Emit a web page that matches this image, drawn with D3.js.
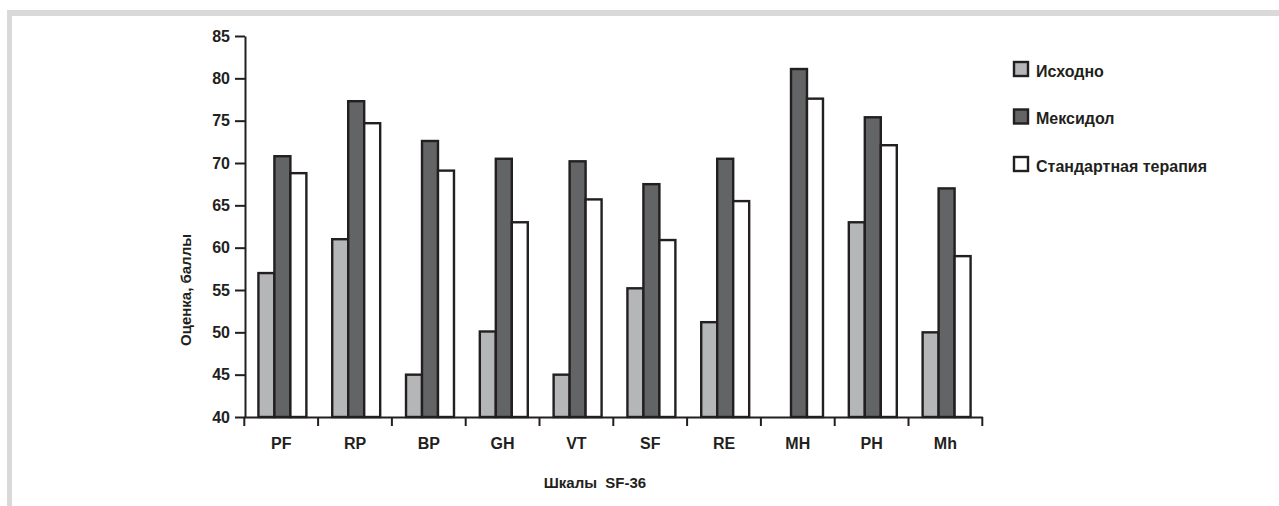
<!DOCTYPE html>
<html><head><meta charset="utf-8">
<script src="https://cdn.jsdelivr.net/npm/d3@7/dist/d3.min.js"></script>
<style>
html,body{margin:0;padding:0;background:#fff;}
svg{display:block;}
text{font-family:"Liberation Sans",Arial,Helvetica,sans-serif;font-weight:bold;fill:#231f20;}
</style></head>
<body>
<svg id="c" width="1279" height="506"></svg>
<script>
const categories = ["PF","RP","BP","GH","VT","SF","RE","MH","PH","Mh"];
const seriesNames = ["Исходно","Мексидол","Стандартная терапия"];
const baseline = [57, 61, 45, 50.1, 45, 55.2, 51.2, null, 63, 50];
const mexidol  = [70.8, 77.3, 72.6, 70.5, 70.2, 67.5, 70.5, 81.1, 75.4, 67];
const standard = [68.8, 74.7, 69.1, 63, 65.7, 60.9, 65.5, 77.6, 72.1, 59];
const yTicks = [40,45,50,55,60,65,70,75,80,85];
const colors = ["#b5b6b8","#636466","#ffffff"];
const ink = "#231f20";

const svg = d3.select("#c");
// frame
svg.append("rect").attr("x",7).attr("y",10).attr("width",1272).attr("height",6).attr("fill","#d9d9d9");
svg.append("rect").attr("x",7).attr("y",10).attr("width",5).attr("height",496).attr("fill","#d9d9d9");

const x0 = d3.scaleBand().domain(categories).range([244.3, 982.3]).paddingInner(0.35).paddingOuter(0.175);
const x1 = d3.scaleBand().domain(d3.range(3)).range([0, x0.bandwidth()]);
const y = d3.scaleLinear().domain([40,85]).range([417, 36]);

const series = [baseline, mexidol, standard];
const g = svg.append("g");
categories.forEach((c,i)=>{
  series.forEach((s,j)=>{
    const v = s[i];
    if (v == null) return;
    g.append("rect")
      .attr("x", x0(c) + x1(j) + 1.2)
      .attr("y", y(v))
      .attr("width", x1.bandwidth())
      .attr("height", y(40) - y(v))
      .attr("fill", colors[j])
      .attr("stroke", ink)
      .attr("stroke-width", 2.4);
  });
});

// y axis
const yAxis = svg.append("g").attr("transform","translate(245,0)")
  .call(d3.axisLeft(y).tickValues(yTicks).tickSize(10).tickPadding(5).tickSizeOuter(0));
yAxis.select(".domain").attr("stroke",ink).attr("stroke-width",2);
yAxis.selectAll(".tick line").attr("stroke",ink).attr("stroke-width",2);
yAxis.selectAll(".tick text").attr("font-size",16).style("fill",ink);

// x axis
const xAxis = svg.append("g").attr("transform","translate(0,417)")
  .call(d3.axisBottom(x0).tickSize(0).tickPadding(21).tickSizeOuter(0));
xAxis.select(".domain").attr("stroke",ink).attr("stroke-width",2);
xAxis.selectAll(".tick text").attr("font-size",16).style("fill",ink);
const bounds = categories.map(c => x0(c) - x0.step()*x0.paddingInner()/2);
bounds.push(x0.range()[1]);
bounds[0] = x0.range()[0];
xAxis.selectAll(".bnd").data(bounds).enter().append("line")
  .attr("x1",d=>d).attr("x2",d=>d).attr("y1",0).attr("y2",9)
  .attr("stroke",ink).attr("stroke-width",2);

// axis titles
svg.append("text").attr("transform","translate(191,290) rotate(-90)")
  .attr("text-anchor","middle").attr("font-size",15).text("Оценка, баллы");
svg.append("text").attr("x",595).attr("y",488).attr("text-anchor","middle")
  .attr("font-size",15).attr("xml:space","preserve").text("Шкалы  SF-36");

// legend
const leg = svg.append("g");
seriesNames.forEach((n,i)=>{
  const yy = 62 + i*47.5;
  leg.append("rect").attr("x",1014).attr("y",yy).attr("width",14).attr("height",14)
    .attr("fill",colors[i]).attr("stroke",ink).attr("stroke-width",2.4);
  leg.append("text").attr("x",1036).attr("y",yy+14.5).attr("font-size",16).text(n);
});
</script>
</body></html>
